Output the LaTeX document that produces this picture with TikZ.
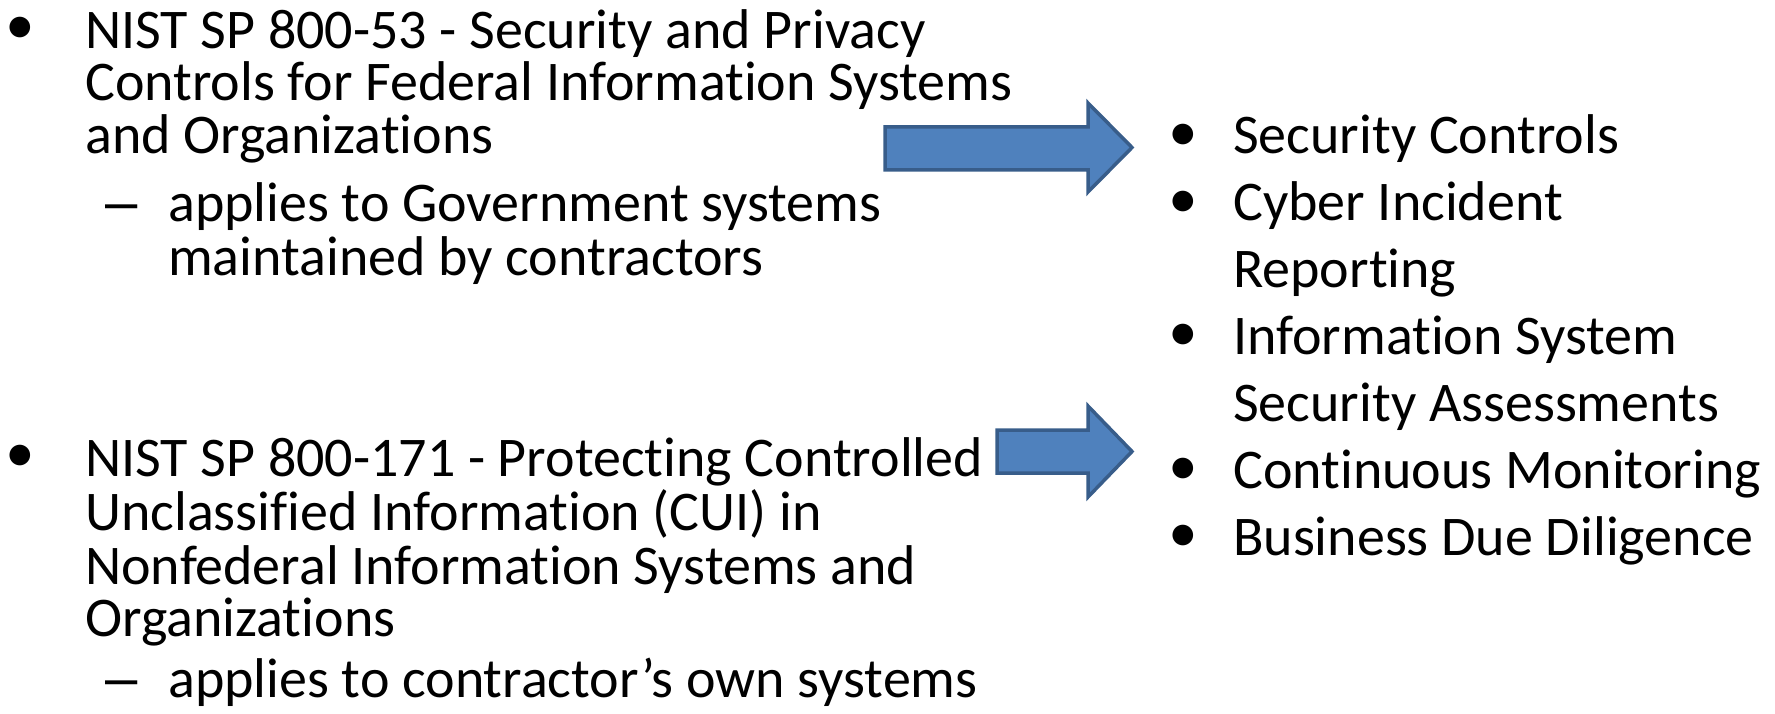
\documentclass[tikz,border=0pt]{standalone}
\usepackage{fontspec}
\setmainfont{Carlito}[Ligatures=NoCommon]
\newfontfamily\bulletfont{Liberation Sans}
\newfontfamily\dotfont{DejaVu Sans}
\definecolor{arrowfill}{HTML}{4F81BD}
\definecolor{arrowline}{HTML}{385D8A}
\begin{document}
\begin{tikzpicture}[x=1pt,y=-1pt,
  txt/.style={anchor=base west, inner sep=0pt, font=\fontsize{56}{62}\selectfont},
  rtxt/.style={anchor=base west, inner sep=0pt, font=\fontsize{56}{62}\selectfont},
  bul/.style={anchor=center, inner sep=0pt, font=\dotfont\fontsize{27}{30}\selectfont},
  dsh/.style={anchor=base, inner sep=0pt, font=\bulletfont\fontsize{58}{62}\selectfont},
  blockarrow/.style={fill=arrowfill, draw=arrowline, line width=3.5pt, line join=miter}]
\useasboundingbox (0,0) rectangle (1775,714);

% first standard
\node[bul] (b1) at (20,28) {●};
\node[txt] (a1) at (85,49) {NIST SP 800-53 - Security and Privacy};
\node[txt] (a2) at (85,101) {Controls for Federal Information Systems};
\node[txt] (a3) at (85,154) {and Organizations};
\node[dsh] (d1) at (122,222) {–};
\node[txt] (a4) at (168,222) {applies to Government systems};
\node[txt] (a5) at (168,276) {maintained by contractors};

% second standard
\node[bul] (b2) at (20,456) {●};
\node[txt] (c1) at (85,476) {NIST SP 800-171 - Protecting Controlled};
\node[txt] (c2) at (85,530) {Unclassified Information (CUI) in};
\node[txt] (c3) at (85,584) {Nonfederal Information Systems and};
\node[txt] (c4) at (85,636) {Organizations};
\node[dsh] (d2) at (122,697) {–};
\node[txt] (c5) at (168,697) {applies to contractor’s own systems};

% block arrows
\draw[blockarrow] (885,127) -- (1088,127) -- (1088,103) -- (1132,147.5)
  -- (1088,192) -- (1088,170) -- (885,170) -- cycle;
\draw[blockarrow] (997,430) -- (1088,430) -- (1088,406) -- (1132,451.5)
  -- (1088,497) -- (1088,473) -- (997,473) -- cycle;

% requirements list
\node[bul] (r1b) at (1183,135) {●};
\node[rtxt] (r1) at (1233,154) {Security Controls};
\node[bul] (r2b) at (1183,202) {●};
\node[rtxt] (r2) at (1233,221) {Cyber Incident};
\node[rtxt] (r2c) at (1233,287) {Reporting};
\node[bul] (r3b) at (1183,335) {●};
\node[rtxt] (r3) at (1233,354) {Information System};
\node[rtxt] (r3c) at (1233,421) {Security Assessments};
\node[bul] (r4b) at (1183,469) {●};
\node[rtxt] (r4) at (1233,488) {Continuous Monitoring};
\node[bul] (r5b) at (1183,536) {●};
\node[rtxt] (r5) at (1233,555) {Business Due Diligence};
\end{tikzpicture}
\end{document}
